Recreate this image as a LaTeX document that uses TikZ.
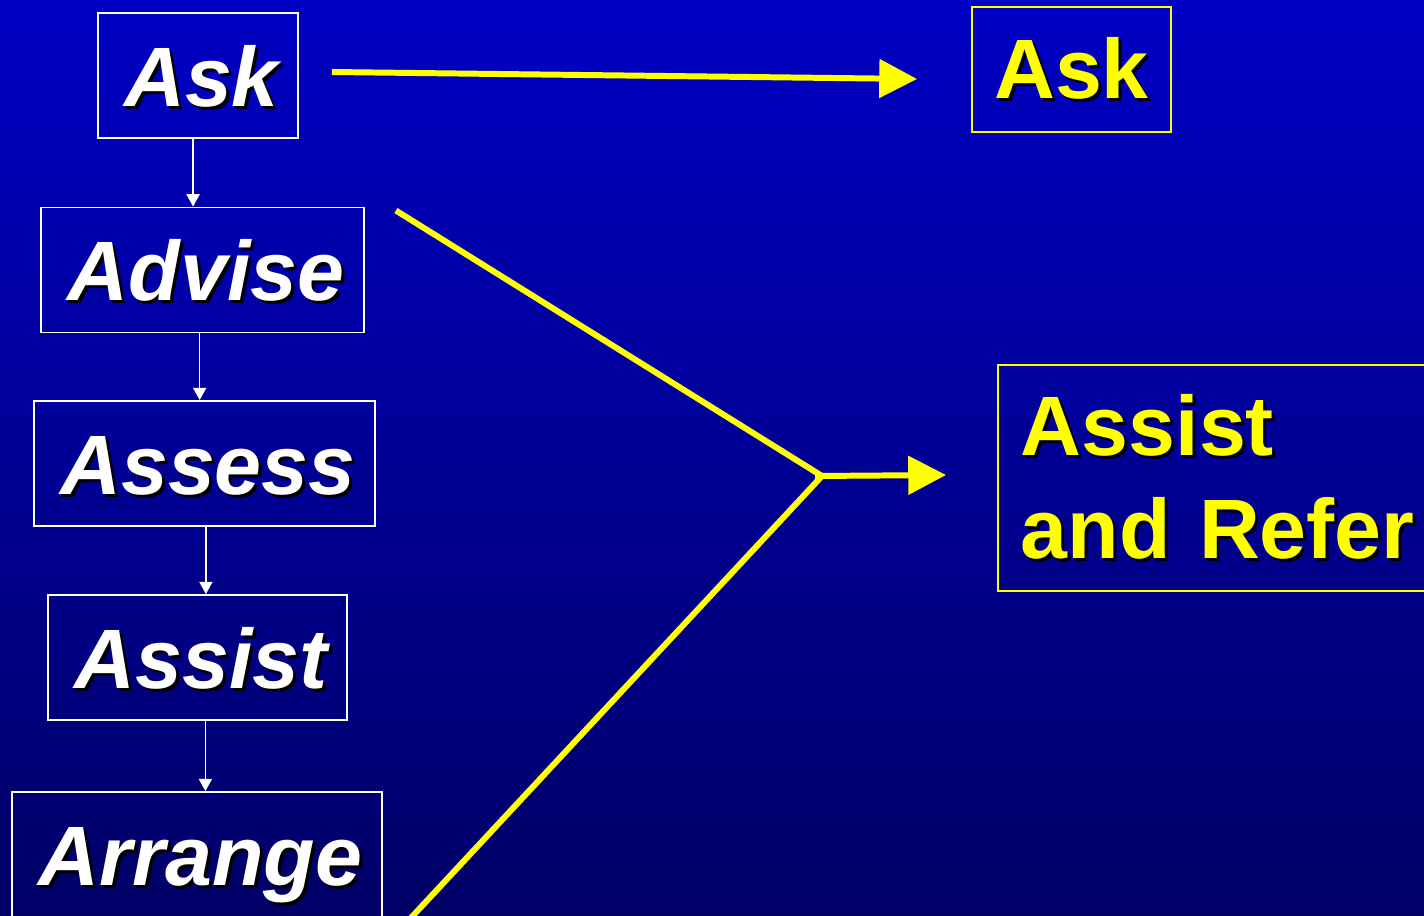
\documentclass[tikz,border=0pt]{standalone}
\usepackage{fontspec}
\setmainfont{Liberation Sans}
\usepackage{tikz}
\usetikzlibrary{arrows.meta, positioning}
\definecolor{slidetop}{HTML}{0000C4}
\definecolor{slidebottom}{HTML}{000066}
\definecolor{markyellow}{HTML}{FFFF00}
\newcommand{\shadowtext}[1]{\leavevmode\rlap{\kern1.7pt\raisebox{-1.7pt}{\textcolor{black}{\mbox{#1}}}}\mbox{#1}}

\begin{document}
\begin{tikzpicture}[x=0.02cm, y=-0.02cm,
    stepbox/.style={rectangle, draw=white, line width=1.1pt, text=white,
                    minimum height=2.5cm, inner sep=0pt, text height=35pt, text depth=0pt,
                    font=\fontsize{48}{58}\selectfont\bfseries\itshape},
    briefbox/.style={rectangle, draw=markyellow, line width=1.1pt, text=markyellow,
                     inner sep=0pt, font=\fontsize{48}{58.5}\selectfont\bfseries},
    flow/.style={-{Triangle[length=7pt, width=7.5pt]}, line width=0.9pt, color=white},
    yellow flow/.style={-{Triangle[length=21.5pt, width=21.5pt]}, line width=3.4pt, color=markyellow},
    yellow line/.style={line width=3.4pt, color=markyellow},
]

    \useasboundingbox (0,0) rectangle (1424,916);
    \fill[top color=slidetop, bottom color=slidebottom] (0,0) rectangle (1424,916);

    % ── Steps ──
    \node[stepbox, minimum width=4cm]    (ask)     at (198,75.5)   {\kern4pt\shadowtext{Ask}};
    \node[stepbox, minimum width=6.46cm] (advise)  at (202.5,270)  {\kern4pt\shadowtext{Advise}};
    \node[stepbox, minimum width=6.82cm] (assess)  at (204.5,463.5) {\kern4pt\shadowtext{Assess}};
    \node[stepbox, minimum width=5.98cm] (assist)  at (197.5,657.5) {\kern4pt\shadowtext{Assist}};
    \node[stepbox, minimum width=7.4cm]  (arrange) at (197,854.5)  {\kern4pt\shadowtext{Arrange}};

    \draw[flow] ([xshift=-2.8pt]ask.south) -- ([xshift=-2.8pt]ask.south |- advise.north);
    \draw[flow] ([xshift=-1.6pt]advise.south) -- ([xshift=-1.6pt]advise.south |- assess.north);
    \draw[flow] ([xshift=0.8pt]assess.south) -- ([xshift=0.8pt]assess.south |- assist.north);
    \draw[flow] ([xshift=4.5pt]assist.south) -- ([xshift=4.5pt]assist.south |- arrange.north);

    % ── Brief version ──
    \node[briefbox, minimum width=3.98cm, minimum height=2.5cm] (askbrief) at (1071.5,69.5) {\shadowtext{Ask}};
    \node[briefbox, anchor=west, minimum height=4.52cm, inner xsep=0.46cm,
          text width=9cm, align=left] (refer) at (997,478)
          {\shadowtext{Assist}\\\shadowtext{and Refer}};

    \coordinate (merge) at (822,476);

    \draw[yellow flow] ([shift={(33,-3.5)}]ask.east) -- ([shift={(-54,9.5)}]askbrief.west);
    \draw[yellow line] ([shift={(31,4)}]advise.north east) -- (merge);
    \draw[yellow line] ([shift={(27,1)}]arrange.south east) -- (merge);
    \draw[yellow flow] ([shift={(-7,0)}]merge) -- ([shift={(-51,-3)}]refer.west);

\end{tikzpicture}
\end{document}
